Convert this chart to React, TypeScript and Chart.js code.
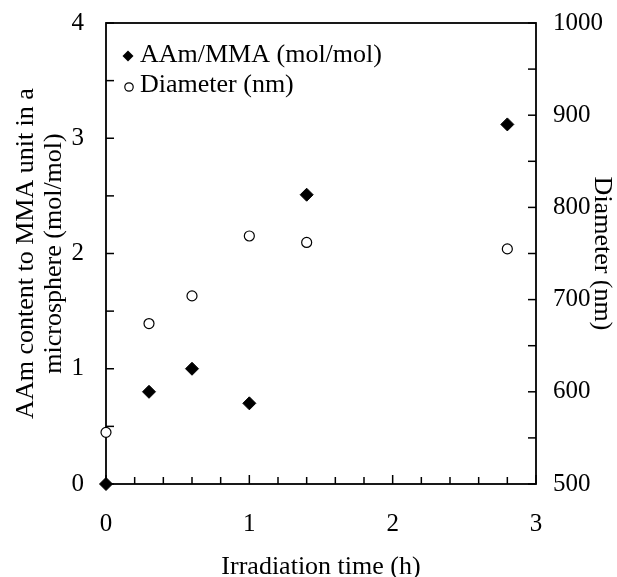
import React, { useEffect, useRef } from 'react';
import { Chart, registerables } from 'chart.js';

Chart.register(...registerables);

// ---- Data ----
const irradiationTime = [0, 0.3, 0.6, 1.0, 1.4, 2.8];
const aamMmaRatio = [0, 0.8, 1.0, 0.7, 2.51, 3.12];
const diameterNm = [556, 674, 704, 769, 762, 755];
const legendLabels = ['AAm/MMA (mol/mol)', 'Diameter (nm)'];
const xTitle = 'Irradiation time (h)';
const yLeftTitle = ['AAm content to MMA unit in a', 'microsphere (mol/mol)'];
const yRightTitle = 'Diameter (nm)';

const FONT = "'Liberation Serif', 'Times New Roman', serif";

const isMultiple = (v: number, m: number) => Math.abs(v / m - Math.round(v / m)) < 1e-6;

const framePlugin = {
  id: 'frameTicks',
  beforeDatasetsDraw(chart: any) {
    const { ctx, chartArea, scales } = chart;
    const { left, right, top, bottom } = chartArea;
    ctx.save();
    ctx.strokeStyle = '#000';
    ctx.lineWidth = 1.8;
    ctx.strokeRect(left, top, right - left, bottom - top);
    ctx.lineWidth = 1.5;
    scales.x.ticks.forEach((t: any) => {
      const px = scales.x.getPixelForValue(t.value);
      const len = isMultiple(t.value, 1) ? 9 : 7;
      ctx.beginPath();
      ctx.moveTo(px, bottom);
      ctx.lineTo(px, bottom - len);
      ctx.stroke();
    });
    scales.y.ticks.forEach((t: any) => {
      const py = scales.y.getPixelForValue(t.value);
      ctx.beginPath();
      ctx.moveTo(left, py);
      ctx.lineTo(left + 8, py);
      ctx.stroke();
    });
    scales.y2.ticks.forEach((t: any) => {
      const py = scales.y2.getPixelForValue(t.value);
      ctx.beginPath();
      ctx.moveTo(right, py);
      ctx.lineTo(right - 8, py);
      ctx.stroke();
    });
    ctx.restore();
  },
  afterDraw(chart: any) {
    const { ctx, chartArea } = chart;
    const { left, top } = chartArea;
    ctx.save();
    ctx.font = `26px ${FONT}`;
    ctx.fillStyle = '#000';
    ctx.textBaseline = 'middle';
    ctx.textAlign = 'left';
    const mx = left + 22;
    const tx = left + 34;
    // diamond
    const y0 = top + 33;
    ctx.beginPath();
    ctx.moveTo(mx, y0 - 5.5);
    ctx.lineTo(mx + 5.5, y0);
    ctx.lineTo(mx, y0 + 5.5);
    ctx.lineTo(mx - 5.5, y0);
    ctx.closePath();
    ctx.fill();
    ctx.fillText(legendLabels[0], tx, top + 32);
    // circle
    const y1 = top + 64;
    ctx.beginPath();
    ctx.arc(mx + 1, y1, 4.2, 0, Math.PI * 2);
    ctx.fillStyle = '#fff';
    ctx.fill();
    ctx.strokeStyle = '#000';
    ctx.lineWidth = 1.2;
    ctx.stroke();
    ctx.fillStyle = '#000';
    ctx.fillText(legendLabels[1], tx, top + 62);
    ctx.restore();
  },
};

export default function App() {
  const canvasRef = useRef<HTMLCanvasElement | null>(null);

  useEffect(() => {
    if (!canvasRef.current) return;
    const tickFont = { family: FONT, size: 25 };
    const titleFont = { family: FONT, size: 26 };
    const fitV = (w: number) => (s: any) => {
      s.width = w;
      s.paddingTop = 0;
      s.paddingBottom = 0;
    };
    const noGrid = { display: false, drawTicks: false };
    const chart = new Chart(canvasRef.current, {
      type: 'scatter',
      data: {
        datasets: [
          {
            label: legendLabels[0],
            data: irradiationTime.map((x, i) => ({ x, y: aamMmaRatio[i] })),
            yAxisID: 'y',
            pointStyle: 'rectRot',
            pointRadius: 6.5,
            backgroundColor: '#000',
            borderColor: '#000',
            borderWidth: 1,
            showLine: false,
            clip: false as any,
          },
          {
            label: legendLabels[1],
            data: irradiationTime.map((x, i) => ({ x, y: diameterNm[i] })),
            yAxisID: 'y2',
            pointStyle: 'circle',
            pointRadius: 5,
            backgroundColor: '#fff',
            borderColor: '#000',
            borderWidth: 1.2,
            showLine: false,
            clip: false as any,
          },
        ],
      },
      options: {
        responsive: false,
        animation: false,
        events: [],
        layout: { padding: { top: 23, left: 0, right: 0, bottom: 0 } },
        plugins: {
          legend: { display: false },
          tooltip: { enabled: false },
        },
        scales: {
          x: {
            type: 'linear',
            position: 'bottom',
            min: 0,
            max: 3,
            afterFit: (s: any) => { s.height = 93; s.paddingLeft = 0; s.paddingRight = 0; },
            grid: noGrid,
            border: { display: false },
            ticks: {
              stepSize: 0.2,
              autoSkip: false,
              maxRotation: 0,
              padding: 25,
              color: '#000',
              font: tickFont,
              callback: (v: any) => (isMultiple(Number(v), 1) ? String(Math.round(Number(v))) : ''),
            },
            title: {
              display: true,
              text: xTitle,
              color: '#000',
              font: titleFont,
              padding: { top: 0, bottom: -6 },
            },
          },
          y: {
            type: 'linear',
            position: 'left',
            min: 0,
            max: 4,
            afterFit: fitV(106),
            grid: noGrid,
            border: { display: false },
            ticks: {
              stepSize: 0.5,
              autoSkip: false,
              padding: 22,
              color: '#000',
              font: tickFont,
              callback: (v: any) => (isMultiple(Number(v), 1) ? String(Math.round(Number(v))) : ''),
            },
            title: {
              display: true,
              text: yLeftTitle,
              color: '#000',
              font: { ...titleFont, lineHeight: 1.08 },
              padding: { top: 12, bottom: 0 },
            },
          },
          y2: {
            type: 'linear',
            position: 'right',
            min: 500,
            max: 1000,
            afterFit: fitV(81),
            grid: noGrid,
            border: { display: false },
            ticks: {
              stepSize: 50,
              autoSkip: false,
              padding: 17,
              color: '#000',
              font: tickFont,
              callback: (v: any) => (isMultiple(Number(v), 100) ? String(Math.round(Number(v))) : ''),
            },
            title: {
              display: true,
              text: yRightTitle,
              color: '#000',
              font: titleFont,
              padding: { top: 0, bottom: 0 },
            },
          },
        },
      },
      plugins: [framePlugin],
    } as any);
    return () => chart.destroy();
  }, []);

  return (
    <div style={{ position: 'absolute', left: 0, top: 0, width: 617, height: 577, background: '#fff' }}>
      <canvas ref={canvasRef} width={617} height={577} style={{ display: 'block' }} />
    </div>
  );
}
